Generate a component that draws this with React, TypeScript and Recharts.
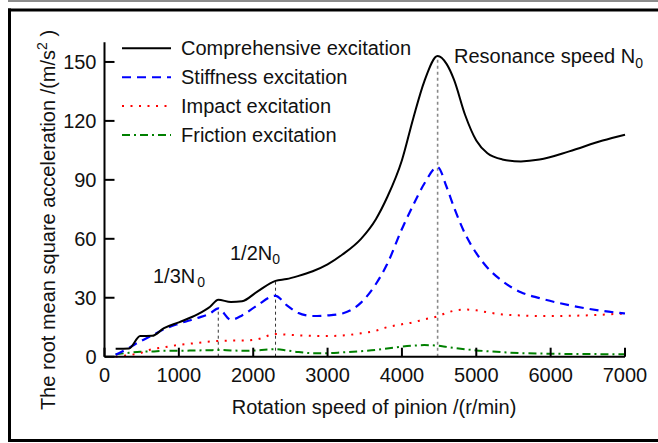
import React from "react";
import { LineChart, Line, XAxis, YAxis, ReferenceLine } from "recharts";

// rotation speed of pinion (r/min)
const speed = [
	150, 330, 480, 640, 800, 1000, 1250, 1420, 1530, 1700, 1850, 2050, 2300,
	2450, 2600, 2800, 3000, 3200, 3450, 3650, 3800, 4000, 4150, 4300, 4480,
	4600, 4700, 4850, 5000, 5150, 5350, 5600, 5850, 6250, 6700, 7000,
];
const comprehensive = [
	4, 4.2, 10.5, 10.6, 14.5, 17.5, 21.5, 25.4, 29, 27.8, 28.2, 33, 38.6, 39.5,
	41, 43.5, 47, 52, 60, 70, 81, 100, 121, 140, 153, 149, 141, 123, 110,
	103.5, 100.4, 99.4, 100.3, 104.5, 110, 113,
];
const stiffness = [
	1, 4.5, 7.8, 10.8, 14, 16.8, 19.7, 22, 24.6, 18.8, 21, 26, 31, 26.2, 22.4,
	20.7, 21, 22, 27.5, 37, 47, 65, 77, 88, 96.5, 86.5, 76, 62.5, 52.7, 45.3,
	38.5, 32.8, 29.8, 26.2, 23.3, 22,
];
const impact = [
	0, 0.8, 1.8, 3.8, 4.8, 6, 7, 7.7, 8, 8.2, 8.2, 8.8, 11.5, 11.2, 10.9, 10.6,
	10.5, 10.8, 11.9, 13.2, 15, 16.5, 17.5, 19, 20.5, 22.3, 23.4, 24, 23.6,
	22.6, 21.5, 21, 20.7, 20.8, 21.4, 22,
];
const friction = [
	1.2, 2, 2.5, 2.7, 3, 3, 3.2, 3.3, 3.4, 3.2, 3, 3.2, 3.8, 3.2, 2.4, 1.8, 1.8,
	2.2, 2.8, 3.4, 4.2, 5.1, 5.6, 5.9, 5.6, 5, 4.5, 3.8, 3.2, 2.8, 2.3, 1.8, 1.6,
	1.4, 1.3, 1.2,
];

const xTicks = [0, 1000, 2000, 3000, 4000, 5000, 6000, 7000];
const yTicks = [0, 30, 60, 90, 120, 150];

// vertical guide lines: 1/3N0, 1/2N0, N0
const markerSpeeds = [1530, 2300, 4480];
const markerTops = [24.6, 38.6, 153];
const markerColors = ["#333", "#333", "#888"];

const legendItems = [
	{ name: "Comprehensive excitation", color: "#000", dash: undefined },
	{ name: "Stiffness excitation", color: "#0000ff", dash: "9 6" },
	{ name: "Impact excitation", color: "#ff0000", dash: "2 6.5" },
	{ name: "Friction excitation", color: "#008000", dash: "8 4 2 4" },
];

const rows = speed.map((s, i) => ({
	speed: s,
	comprehensive: comprehensive[i],
	stiffness: stiffness[i],
	impact: impact[i],
	friction: friction[i],
}));

const FONT = "'Liberation Sans', Arial, sans-serif";

const XTick = (props: any) => {
	const { x, y, payload } = props;
	return (
		<g>
			<line x1={x} x2={x} y1={y} y2={y - 9} stroke="#000" strokeWidth={2} />
			<text
				x={x}
				y={y + 25}
				textAnchor="middle"
				fontSize={20}
				fontFamily={FONT}
				fill="#111"
			>
				{payload.value}
			</text>
		</g>
	);
};

const YTick = (props: any) => {
	const { x, y, payload } = props;
	return (
		<g>
			<line x1={x} x2={x + 10} y1={y} y2={y} stroke="#000" strokeWidth={2} />
			<text
				x={x - 8}
				y={y + 7}
				textAnchor="end"
				fontSize={20}
				fontFamily={FONT}
				fill="#111"
			>
				{payload.value}
			</text>
		</g>
	);
};

export default function App() {
	return (
		<div
			style={{
				position: "absolute",
				left: 0,
				top: 0,
				width: 658,
				height: 443,
				background: "#fff",
				overflow: "hidden",
			}}
		>
			<LineChart
				width={658}
				height={443}
				data={rows}
				margin={{ top: 42.3, right: 33, bottom: 56.3, left: 74.5 }}
			>
				<XAxis
					dataKey="speed"
					type="number"
					domain={[0, 7000]}
					ticks={xTicks}
					interval={0}
					height={30}
					tickSize={0}
					tickMargin={0}
					tickLine={false}
					tick={<XTick />}
					axisLine={{ stroke: "#000", strokeWidth: 2 }}
				/>
				<YAxis
					type="number"
					domain={[0, 160]}
					ticks={yTicks}
					interval={0}
					width={30}
					tickSize={0}
					tickMargin={0}
					tickLine={false}
					tick={<YTick />}
					axisLine={{ stroke: "#000", strokeWidth: 2 }}
				/>
				{markerSpeeds.map((s, i) => (
					<ReferenceLine
						key={s}
						segment={[
							{ x: s, y: 0 },
							{ x: s, y: markerTops[i] },
						]}
						stroke={markerColors[i]}
						strokeDasharray="3 3"
						strokeWidth={i === 2 ? 1.6 : 1}
					/>
				))}
				<Line
					dataKey="friction"
					type="monotone"
					stroke="#008000"
					strokeWidth={2}
					strokeDasharray="8 4 2 4"
					dot={false}
					activeDot={false}
					isAnimationActive={false}
				/>
				<Line
					dataKey="impact"
					type="monotone"
					stroke="#ff0000"
					strokeWidth={2}
					strokeDasharray="2 6.5"
					dot={false}
					activeDot={false}
					isAnimationActive={false}
				/>
				<Line
					dataKey="stiffness"
					type="monotone"
					stroke="#0000ff"
					strokeWidth={2.2}
					strokeDasharray="9 6"
					dot={false}
					activeDot={false}
					isAnimationActive={false}
				/>
				<Line
					dataKey="comprehensive"
					type="monotone"
					stroke="#000"
					strokeWidth={2}
					dot={false}
					activeDot={false}
					isAnimationActive={false}
				/>
			</LineChart>

			<svg
				width={658}
				height={443}
				style={{ position: "absolute", left: 0, top: 0, pointerEvents: "none" }}
				fontFamily={FONT}
			>
				{/* frame */}
				<line x1={8} x2={658} y1={1} y2={1} stroke="#666" strokeWidth={1.5} />
				<line x1={8} x2={658} y1={10} y2={10} stroke="#000" strokeWidth={3} />
				<line x1={9.5} x2={9.5} y1={8.5} y2={442} stroke="#000" strokeWidth={3} />
				<line x1={8} x2={658} y1={440.5} y2={440.5} stroke="#000" strokeWidth={3} />

				{legendItems.map((item, i) => {
					const cy = 48.3 + i * 28.9;
					return (
						<g key={item.name}>
							<line
								x1={122}
								x2={171}
								y1={cy}
								y2={cy}
								stroke={item.color}
								strokeWidth={2}
								strokeDasharray={item.dash}
							/>
							<text x={181} y={cy + 7} fontSize={20} fill="#111">
								{item.name}
							</text>
						</g>
					);
				})}

				<text x={454} y={63} fontSize={20} fill="#111">
					Resonance speed N
					<tspan fontSize={14} dy={5}>
						0
					</tspan>
				</text>
				<text x={153} y={283} fontSize={20} fill="#111">
					1/3N
					<tspan fontSize={14} dx={2} dy={4}>
						0
					</tspan>
				</text>
				<text x={230} y={260} fontSize={20} fill="#111">
					1/2N
					<tspan fontSize={14} dy={4}>
						0
					</tspan>
				</text>

				<text x={374} y={414} fontSize={20} textAnchor="middle" fill="#111">
					Rotation speed of pinion /(r/min)
				</text>
				<text
					transform="translate(55,220) rotate(-90)"
					fontSize={20}
					textAnchor="middle"
					fill="#111"
				>
					The root mean square acceleration /(m/s
					<tspan fontSize={14} dy={-8}>
						2
					</tspan>
					<tspan dy={8}> )</tspan>
				</text>
			</svg>
		</div>
	);
}
